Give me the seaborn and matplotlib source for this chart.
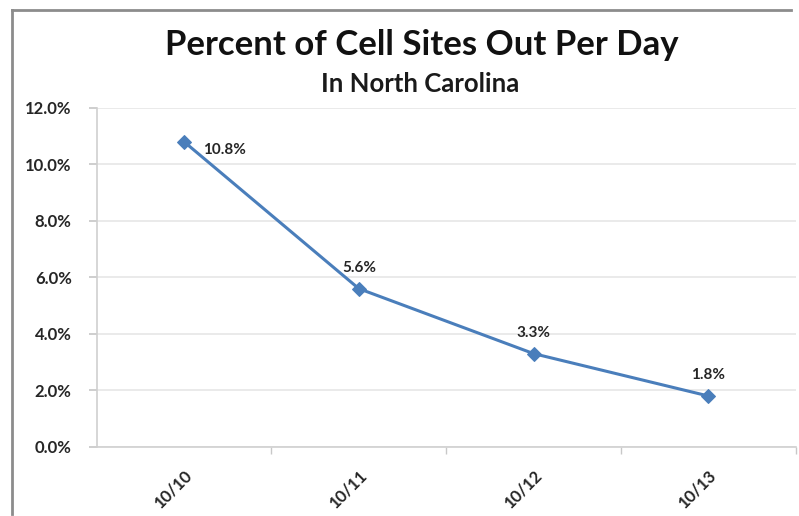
import pandas as pd
import seaborn as sns
import matplotlib.pyplot as plt
from matplotlib.ticker import FuncFormatter, FixedLocator

## data
days = ["10/10", "10/11", "10/12", "10/13"]
pct_out = [10.8, 5.6, 3.3, 1.8]
labels = ["10.8%", "5.6%", "3.3%", "1.8%"]

df = pd.DataFrame({"day": days, "pct": pct_out})

sns.set_theme(style="white")
plt.rcParams["font.family"] = ["Lato", "DejaVu Sans"]
text_col = "#262626"
line_col = "#4a7ebb"

fig = plt.figure(figsize=(7.99, 5.16), dpi=100)

## chart border: top and left edges of a background frame
bx, by = 12 / 799, 1 - 10 / 516
frame = fig.add_axes([bx, 0.003, 0.99 - bx, by - 0.003], zorder=-1)
frame.set_xticks([])
frame.set_yticks([])
frame.patch.set_alpha(0)
for s in ["right", "bottom"]:
    frame.spines[s].set_visible(False)
for s in ["top", "left"]:
    frame.spines[s].set_color("#8c8c8c")
    frame.spines[s].set_linewidth(2)

ax = fig.add_axes([0.121, 0.134, 0.875, 0.657])

ax.set_ylim(0, 12)
ax.set_xlim(-0.5, 3.5)
ax.yaxis.set_major_locator(FixedLocator([0, 2, 4, 6, 8, 10, 12]))
ax.grid(axis="y", color="#e6e6e6", linewidth=1.2)
ax.set_axisbelow(True)
ax.patch.set_alpha(0)

sns.lineplot(data=df, x="day", y="pct", ax=ax, color=line_col, linewidth=2.2,
             marker="D", markersize=7, markeredgecolor=line_col, sort=False)

## data labels
for i, (v, lab) in enumerate(zip(pct_out, labels)):
    if i == 0:
        ax.annotate(lab, (i, v), xytext=(14, -6), textcoords="offset points",
                    ha="left", va="center", fontsize=11, fontweight="bold", color=text_col)
    else:
        ax.annotate(lab, (i, v), xytext=(0, 10), textcoords="offset points",
                    ha="center", va="bottom", fontsize=11, fontweight="bold", color=text_col)

ax.yaxis.set_major_formatter(FuncFormatter(lambda v, p: f"{v:.1f}%"))
ax.set_xticks(range(len(days)))
ax.set_xticklabels(days, rotation=45, ha="right", rotation_mode="anchor")
ax.set_xticks([0.5, 1.5, 2.5, 3.5], minor=True)
ax.tick_params(axis="x", which="major", length=0, pad=14, labelsize=12, labelcolor=text_col)
ax.tick_params(axis="x", which="minor", length=5, color="#c8c8c8", bottom=True)
ax.tick_params(axis="y", length=6, color="#c8c8c8", left=True, labelsize=12,
               labelcolor=text_col, pad=12)
for t in ax.get_xticklabels() + ax.get_yticklabels():
    t.set_fontweight("bold")

for s in ["top", "right"]:
    ax.spines[s].set_visible(False)
for s in ["left", "bottom"]:
    ax.spines[s].set_color("#d0d0d0")
    ax.spines[s].set_linewidth(1.2)
ax.set_xlabel("")
ax.set_ylabel("")

## titles
fig.text(0.528, 1 - 45 / 516, "Percent of Cell Sites Out Per Day", ha="center", va="center",
         fontsize=25, fontweight="bold", color="#111111")
fig.text(0.526, 1 - 84 / 516, "In North Carolina", ha="center", va="center",
         fontsize=18.5, fontweight="bold", color="#1a1a1a")

fig.savefig("out.png", dpi=100)
